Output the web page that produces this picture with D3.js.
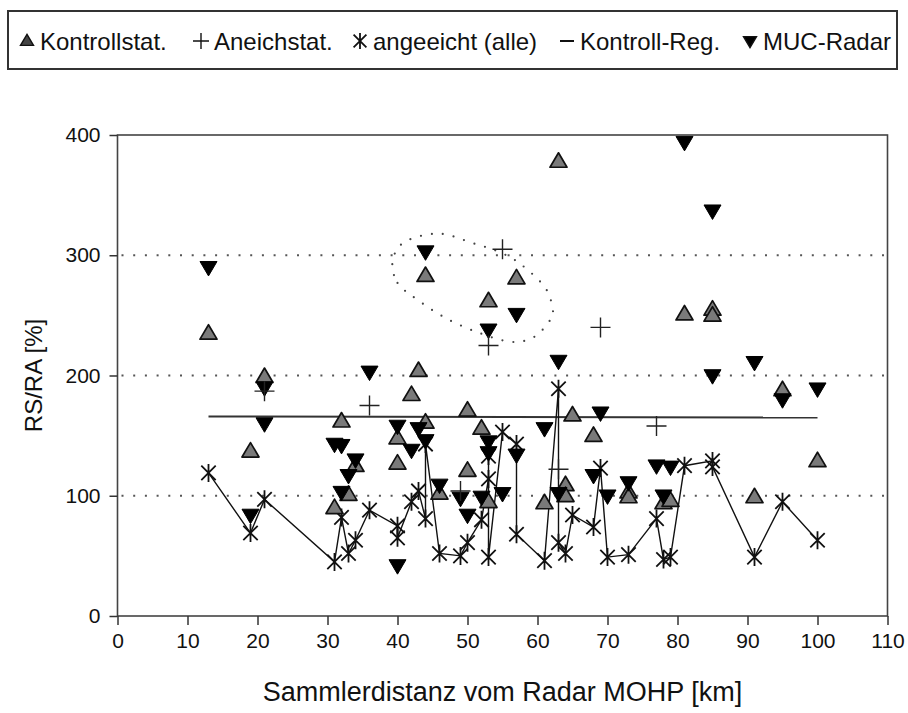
<!DOCTYPE html>
<html>
<head>
<meta charset="utf-8">
<script src="https://cdn.jsdelivr.net/npm/d3@7"></script>
<style>
  body { margin: 0; background: #fff; }
  svg { display: block; font-family: "Liberation Sans", Arial, sans-serif; }
</style>
</head>
<body>
<div id="chart"></div>
<script>
// values: [distance km, RS/RA %]
const xTicks = [0, 10, 20, 30, 40, 50, 60, 70, 80, 90, 100, 110];
const yTicks = [0, 100, 200, 300, 400];
const gridValues = [100, 200, 300];

const kontrollStat = [
  [13, 235], [19, 137], [21, 199], [31, 90], [32, 162], [33, 101], [34, 125],
  [40, 148], [40, 127], [42, 184], [43, 204], [44, 283], [44, 161], [46, 102],
  [50, 171], [50, 121], [52, 156], [53, 262], [53, 95], [57, 281], [61, 94],
  [63, 378], [64, 109], [64, 100], [65, 167], [68, 150], [73, 103], [73, 99],
  [78, 94], [79, 96], [81, 251], [85, 255], [85, 250], [91, 99], [95, 188],
  [100, 129],
];

const aneichStat = [
  [21, 187], [36, 175], [49, 104], [53, 225], [55, 305], [63, 122], [69, 240],
  [77, 158],
];

// drawn in this order, joined by a line
const angeeicht = [
  [13, 119], [19, 69], [21, 97], [31, 45], [32, 82], [33, 52], [34, 63],
  [36, 88], [40, 75], [40, 65], [42, 95], [43, 104], [44, 81], [44, 143],
  [46, 52], [49, 50], [50, 61], [52, 80], [53, 114], [53, 133], [53, 49],
  [55, 153], [57, 143], [57, 68], [61, 46], [63, 189], [63, 61], [64, 52],
  [65, 84], [68, 74], [69, 123], [70, 49], [73, 51], [77, 81], [78, 47],
  [79, 49], [81, 125], [85, 129], [85, 124], [91, 49], [95, 95], [100, 63],
];

const kontrollReg = [[13, 166], [100, 165]];

const mucRadar = [
  [13, 290], [19, 84], [21, 190], [21, 160], [31, 143], [32, 142], [32, 103],
  [33, 117], [34, 130], [36, 203], [40, 158], [40, 42], [42, 138], [43, 156],
  [44, 303], [44, 146], [46, 109], [49, 98], [50, 84], [52, 99], [53, 238],
  [53, 145], [53, 136], [55, 102], [57, 251], [57, 134], [61, 156], [63, 212],
  [63, 102], [68, 117], [69, 169], [70, 100], [73, 111], [77, 125], [78, 100],
  [79, 124], [81, 394], [85, 337], [85, 200], [91, 211], [95, 180], [100, 189],
];

// dotted outline drawn around the group of high values
const highlightOutline = [
  [39.3, 295], [40.0, 277], [42.6, 264], [46.8, 248], [51.4, 236], [56.2, 228],
  [59.5, 232], [61.8, 246], [62.2, 254], [61.1, 273], [57.5, 293], [54.4, 303],
  [50.8, 310], [45.9, 318], [41.0, 311],
];

const legendItems = [
  { key: "up", label: "Kontrollstat.", x: 27 },
  { key: "plus", label: "Aneichstat.", x: 201 },
  { key: "star", label: "angeeicht (alle)", x: 360 },
  { key: "line", label: "Kontroll-Reg.", x: 567 },
  { key: "down", label: "MUC-Radar", x: 750 },
];

const width = 908;
const height = 713;
const margin = { top: 135, right: 20.5, bottom: 97, left: 117.5 };

const x = d3.scaleLinear().domain([0, 110])
  .range([margin.left, width - margin.right]);
const y = d3.scaleLinear().domain([0, 400])
  .range([height - margin.bottom, margin.top]);

const svg = d3.select("#chart").append("svg")
  .attr("width", width)
  .attr("height", height)
  .attr("viewBox", [0, 0, width, height]);

svg.append("rect").attr("width", width).attr("height", height).attr("fill", "#fff");

// marker shapes centred on 0,0
function upPath(s) {
  const h = s * 0.85;
  return `M0,${-h * 0.6}L${s / 2},${h * 0.4}L${-s / 2},${h * 0.4}Z`;
}
function downPath(s) {
  const h = s * 0.85;
  return `M0,${h * 0.6}L${s / 2},${-h * 0.4}L${-s / 2},${-h * 0.4}Z`;
}
function plusPath(s) {
  return `M${-s / 2},0H${s / 2}M0,${-s / 2}V${s / 2}`;
}
function starPath(s) {
  const r = s / 2;
  const d = r * 0.8;
  return `M0,${-r}V${r}M${-d},${-d}L${d},${d}M${-d},${d}L${d},${-d}`;
}

// grid
svg.append("g")
  .selectAll("line")
  .data(gridValues)
  .join("line")
  .attr("x1", x(0) + 4)
  .attr("x2", x(110))
  .attr("y1", (d) => y(d))
  .attr("y2", (d) => y(d))
  .attr("stroke", "#555")
  .attr("stroke-width", 2)
  .attr("stroke-dasharray", "2,9.7");

// frame
svg.append("rect")
  .attr("x", x(0))
  .attr("y", y(400))
  .attr("width", x(110) - x(0))
  .attr("height", y(0) - y(400))
  .attr("fill", "none")
  .attr("stroke", "#444")
  .attr("stroke-width", 1.6);

// axes
const gX = svg.append("g")
  .attr("transform", `translate(0,${y(0)})`)
  .call(d3.axisBottom(x).tickValues(xTicks).tickSize(9).tickPadding(8))
  .call((g) => g.select(".domain").remove());
gX.selectAll("line").attr("stroke", "#333").attr("stroke-width", 1.5);
gX.selectAll("text")
  .attr("font-family", "Liberation Sans, Arial, sans-serif")
  .attr("font-size", 21)
  .attr("fill", "#111");

const gY = svg.append("g")
  .attr("transform", `translate(${x(0)},0)`)
  .call(d3.axisLeft(y).tickValues(yTicks).tickSize(8).tickPadding(9))
  .call((g) => g.select(".domain").remove());
gY.selectAll("line").attr("stroke", "#333").attr("stroke-width", 1.5);
gY.selectAll("text")
  .attr("font-family", "Liberation Sans, Arial, sans-serif")
  .attr("font-size", 21)
  .attr("fill", "#111");

svg.append("text")
  .attr("x", (x(0) + x(110)) / 2)
  .attr("y", 701)
  .attr("text-anchor", "middle")
  .attr("font-size", 27)
  .attr("fill", "#111")
  .text("Sammlerdistanz vom Radar MOHP [km]");

svg.append("text")
  .attr("transform", `translate(42,${y(200)}) rotate(-90)`)
  .attr("text-anchor", "middle")
  .attr("font-size", 24)
  .attr("fill", "#111")
  .text("RS/RA [%]");

// annotation outline
svg.append("path")
  .datum(highlightOutline)
  .attr("d", d3.line().x((d) => x(d[0])).y((d) => y(d[1])).curve(d3.curveCardinalClosed))
  .attr("fill", "none")
  .attr("stroke", "#444")
  .attr("stroke-width", 2.2)
  .attr("stroke-linecap", "round")
  .attr("stroke-dasharray", "0,11");

// regression line
svg.append("path")
  .datum(kontrollReg)
  .attr("d", d3.line().x((d) => x(d[0])).y((d) => y(d[1])))
  .attr("fill", "none")
  .attr("stroke", "#333")
  .attr("stroke-width", 2);

// connecting line of the calibrated values
svg.append("path")
  .datum(angeeicht)
  .attr("d", d3.line().x((d) => x(d[0])).y((d) => y(d[1])))
  .attr("fill", "none")
  .attr("stroke", "#111")
  .attr("stroke-width", 1.4);

svg.append("g")
  .selectAll("path")
  .data(angeeicht)
  .join("path")
  .attr("transform", (d) => `translate(${x(d[0])},${y(d[1])})`)
  .attr("d", starPath(18))
  .attr("stroke", "#111")
  .attr("stroke-width", 1.8)
  .attr("fill", "none");

svg.append("g")
  .selectAll("path")
  .data(kontrollStat)
  .join("path")
  .attr("transform", (d) => `translate(${x(d[0])},${y(d[1])})`)
  .attr("d", upPath(17))
  .attr("fill", "#7a7a7a")
  .attr("stroke", "#111")
  .attr("stroke-width", 1.7)
  .attr("stroke-linejoin", "round");

svg.append("g")
  .selectAll("path")
  .data(mucRadar)
  .join("path")
  .attr("transform", (d) => `translate(${x(d[0])},${y(d[1])})`)
  .attr("d", downPath(17))
  .attr("fill", "#000")
  .attr("stroke", "#000")
  .attr("stroke-width", 1);

svg.append("g")
  .selectAll("path")
  .data(aneichStat)
  .join("path")
  .attr("transform", (d) => `translate(${x(d[0])},${y(d[1])})`)
  .attr("d", plusPath(20))
  .attr("stroke", "#222")
  .attr("stroke-width", 1.4)
  .attr("fill", "none");

// legend
svg.append("rect")
  .attr("x", 8)
  .attr("y", 11)
  .attr("width", 889)
  .attr("height", 58)
  .attr("fill", "none")
  .attr("stroke", "#333")
  .attr("stroke-width", 2);

const legend = svg.append("g").attr("transform", "translate(0,41)");
const gItem = legend.selectAll("g")
  .data(legendItems)
  .join("g")
  .attr("transform", (d) => `translate(${d.x},0)`);

gItem.append("path")
  .attr("d", (d) => {
    if (d.key === "up") return upPath(13);
    if (d.key === "down") return downPath(13);
    if (d.key === "plus") return plusPath(16);
    if (d.key === "star") return starPath(16);
    return "M-7,0H7";
  })
  .attr("fill", (d) => (d.key === "up" ? "#444" : d.key === "down" ? "#000" : "none"))
  .attr("stroke", "#111")
  .attr("stroke-width", (d) => (d.key === "line" ? 2 : d.key === "star" ? 1.8 : 1.4));

gItem.append("text")
  .attr("x", 13)
  .attr("y", 9)
  .attr("font-size", 24)
  .attr("fill", "#111")
  .text((d) => d.label);
</script>
</body>
</html>
